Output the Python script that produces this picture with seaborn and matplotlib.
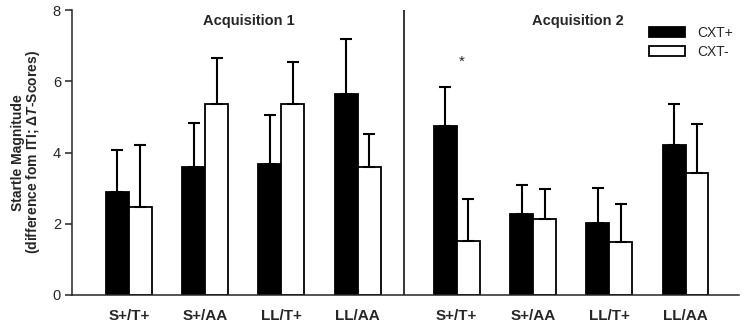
import numpy as np
import pandas as pd
import seaborn as sns
import matplotlib.pyplot as plt

sns.set_style('ticks')
plt.rcParams['font.family'] = ['Liberation Sans', 'DejaVu Sans']
plt.rcParams['mathtext.fontset'] = 'custom'
plt.rcParams['mathtext.it'] = 'Liberation Sans:italic:bold'
plt.rcParams['mathtext.rm'] = 'Liberation Sans:bold'

# values
categories = ['S+/T+', 'S+/AA', 'LL/T+', 'LL/AA', 'S+/T+', 'S+/AA', 'LL/T+', 'LL/AA']
positions = [0, 1, 2, 3, 4.3, 5.3, 6.3, 7.3]
cxt_pos = [2.88, 3.60, 3.67, 5.65, 4.73, 2.28, 2.01, 4.20]
cxt_pos_sem = [1.19, 1.22, 1.37, 1.54, 1.11, 0.81, 0.99, 1.15]
cxt_neg = [2.46, 5.37, 5.37, 3.60, 1.51, 2.12, 1.49, 3.42]
cxt_neg_sem = [1.74, 1.28, 1.17, 0.92, 1.19, 0.85, 1.07, 1.38]

df = pd.DataFrame({
    'pos': positions * 2,
    'val': cxt_pos + cxt_neg,
    'sem': cxt_pos_sem + cxt_neg_sem,
    'cond': ['CXT+'] * 8 + ['CXT-'] * 8,
})

fig = plt.figure(figsize=(7.44, 3.26), dpi=100)
ax = fig.add_axes([72/744, 31/326, (739-72)/744, 285/326])

sns.barplot(data=df, x='pos', y='val', hue='cond', native_scale=True,
            palette={'CXT+': 'black', 'CXT-': 'white'}, saturation=1,
            width=0.6, errorbar=None, edgecolor='black', linewidth=1.3, ax=ax)

# one-sided error bars
for cond, off in [('CXT+', -0.15), ('CXT-', 0.15)]:
    d = df[df['cond'] == cond]
    ax.errorbar(d['pos'] + off, d['val'], yerr=[np.zeros(len(d)), d['sem']],
                fmt='none', ecolor='black', elinewidth=1.5, capsize=4.2, capthick=1.5)

ax.axvline(3.61, color='black', lw=1.1)
ax.set_xlim(-0.745, 8.0)
ax.set_ylim(0, 8)
ax.set_yticks([0, 2, 4, 6, 8])
ax.set_xticks(positions, categories, fontweight='bold', fontsize=11)
ax.tick_params(axis='x', length=0, pad=10)
ax.tick_params(axis='y', length=5, width=1.1, labelsize=10.5, pad=3)
sns.despine(ax=ax)
for s in ['left', 'bottom']:
    ax.spines[s].set_linewidth(1.1)

ax.set_xlabel('')
ax.set_ylabel('Startle Magnitude\n(difference fom ITI; Δ$\\mathit{T}$-Scores)',
              fontweight='bold', fontsize=10, linespacing=0.85, labelpad=8)

ax.text(1.57, 7.7, 'Acquisition 1', ha='center', va='center', fontweight='bold', fontsize=10.5)
ax.text(5.89, 7.7, 'Acquisition 2', ha='center', va='center', fontweight='bold', fontsize=10.5)
ax.text(4.37, 6.55, '*', ha='center', va='center', fontsize=11)

sns.move_legend(ax, 'upper left', bbox_to_anchor=(649/744, 1-26/326),
                bbox_transform=fig.transFigure, frameon=False, title=None,
                fontsize=10, handlelength=2.6, handleheight=0.8,
                handletextpad=0.9, labelspacing=0.35, borderpad=0, borderaxespad=0)

fig.savefig('out.png', dpi=100)
